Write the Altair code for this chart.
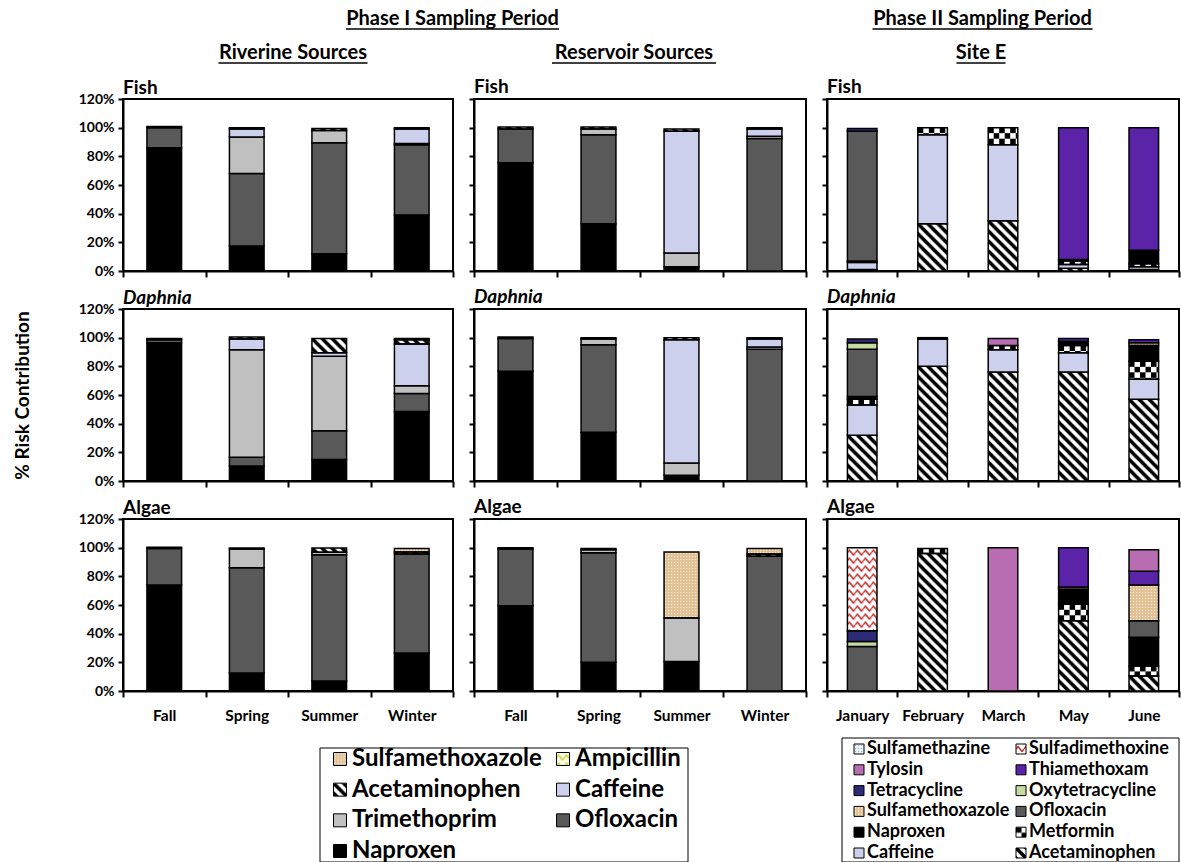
import altair as alt
import pandas as pd
from urllib.parse import quote

FONT = "Lato"

# ---------------- categories (stack order: bottom -> top) ----------------
PHASE1_DRUGS = ["Naproxen", "Ofloxacin", "Trimethoprim", "Caffeine",
                "Acetaminophen", "Ampicillin", "Sulfamethoxazole"]
PHASE2_DRUGS = ["Acetaminophen", "Caffeine", "Metformin", "Naproxen", "Ofloxacin",
                "Sulfamethoxazole", "Oxytetracycline", "Tetracycline", "Thiamethoxam",
                "Tylosin", "Sulfadimethoxine", "Sulfamethazine"]
SEASONS = ["Fall", "Spring", "Summer", "Winter"]
MONTHS = ["January", "February", "March", "May", "June"]

# ---------------- % risk contribution ----------------
riverine_fish = {
    "Naproxen":      [86, 17.5, 12, 39],
    "Ofloxacin":     [14, 50.5, 77.5, 49],
    "Trimethoprim":  [0, 25.5, 8.5, 1],
    "Caffeine":      [0, 5.5, 0, 10],
    "Acetaminophen": [0.8, 1, 1.5, 1],
}
riverine_daphnia = {
    "Naproxen":      [96.5, 10.5, 15, 48.5],
    "Ofloxacin":     [2, 6, 20, 12.5],
    "Trimethoprim":  [0, 75, 52, 5.5],
    "Caffeine":      [0, 7.5, 2.5, 29],
    "Acetaminophen": [1, 1.5, 10, 3],
    "Ampicillin":    [0, 0, 0, 1],
}
riverine_algae = {
    "Naproxen":         [74, 12.5, 7, 26.5],
    "Ofloxacin":        [25.5, 73.5, 88, 69],
    "Trimethoprim":     [0, 13, 1.8, 0],
    "Acetaminophen":    [0.8, 0.8, 3, 1.5],
    "Sulfamethoxazole": [0, 0, 0, 2.5],
}
reservoir_fish = {
    "Naproxen":      [75.5, 33, 3, 0],
    "Ofloxacin":     [23.5, 62, 0, 92.5],
    "Trimethoprim":  [0, 4, 9.5, 1.5],
    "Caffeine":      [0, 0, 85, 5],
    "Acetaminophen": [1.5, 1.5, 1.5, 1],
}
reservoir_daphnia = {
    "Naproxen":      [76.5, 34, 4, 0],
    "Ofloxacin":     [23, 61, 0, 92],
    "Trimethoprim":  [0, 4, 8.5, 1.5],
    "Caffeine":      [0, 0, 86, 5.5],
    "Acetaminophen": [1, 1, 1.5, 1],
}
reservoir_algae = {
    "Naproxen":         [59.5, 20, 20.5, 0],
    "Ofloxacin":        [39.5, 76.5, 0, 94],
    "Trimethoprim":     [0, 2, 30.5, 0],
    "Acetaminophen":    [1, 1, 0, 1.5],
    "Sulfamethoxazole": [0, 0, 46, 4],
}
site_e_fish = {
    "Acetaminophen": [1, 33, 35, 2, 1],
    "Caffeine":      [5, 62, 53, 2.5, 2],
    "Metformin":     [0, 5, 12, 2.5, 2],
    "Naproxen":      [1, 0, 0, 1, 9.5],
    "Ofloxacin":     [90.5, 0, 0, 0, 0],
    "Tetracycline":  [2, 0, 0, 0, 0],
    "Thiamethoxam":  [0, 0, 0, 92, 85.5],
}
site_e_daphnia = {
    "Acetaminophen":    [32, 80, 76, 76, 57],
    "Caffeine":         [21, 19, 15.5, 13.5, 14],
    "Metformin":        [4, 0, 3, 5, 12.5],
    "Naproxen":         [2, 1, 0, 3, 11],
    "Ofloxacin":        [33, 0, 0, 0, 0],
    "Sulfamethoxazole": [0, 0, 0, 0, 2],
    "Oxytetracycline":  [4.5, 0, 0, 0, 0],
    "Tetracycline":     [2.5, 0, 0, 0, 0],
    "Thiamethoxam":     [0, 0, 0, 2, 2],
    "Tylosin":          [0, 0, 5, 0, 0],
}
site_e_algae = {
    "Acetaminophen":    [0, 96, 0, 49, 10.5],
    "Metformin":        [0, 3.5, 0, 11.5, 7],
    "Naproxen":         [0, 0, 0, 10.5, 20],
    "Ofloxacin":        [31, 0, 0, 0, 11.5],
    "Sulfamethoxazole": [0, 0, 0, 1.5, 25],
    "Oxytetracycline":  [3.5, 0, 0, 0, 0],
    "Tetracycline":     [7.5, 0, 0, 0, 0],
    "Thiamethoxam":     [0, 0, 0, 27.5, 9.5],
    "Tylosin":          [0, 0, 100, 0, 15],
    "Sulfadimethoxine": [58, 0, 0, 0, 0],
}

# ---------------- styles ----------------
FILL = {
    "Naproxen": "#000000", "Ofloxacin": "#595959", "Trimethoprim": "#c0c0c0",
    "Caffeine": "#cdd0ec", "Tylosin": "#b86cb1", "Thiamethoxam": "#5b24a8",
    "Tetracycline": "#2d2b78", "Oxytetracycline": "#c4dca2",
    "Acetaminophen": "transparent", "Ampicillin": "transparent",
    "Sulfamethoxazole": "transparent", "Metformin": "transparent",
    "Sulfadimethoxine": "transparent", "Sulfamethazine": "transparent",
}
ALL_DRUGS = list(FILL.keys())


def pattern_uri(w, h, body):
    svg = ("<svg xmlns='http://www.w3.org/2000/svg' width='100%' height='100%'>"
           f"<defs><pattern id='p' x='0' y='0' width='{w}' height='{h}' patternUnits='userSpaceOnUse'>"
           f"{body}</pattern></defs>"
           "<rect x='0' y='0' width='100%' height='100%' fill='url(#p)'/></svg>")
    return "data:image/svg+xml," + quote(svg)


PATTERN = {
    "Acetaminophen": pattern_uri(10, 10, "<rect width='10' height='10' fill='white'/>"
                                 "<path d='M0,0L10,10M-10,0L10,20M0,-10L20,10' stroke='black' stroke-width='3.6'/>"),
    "Metformin": pattern_uri(11, 11, "<rect width='11' height='11' fill='white'/>"
                             "<rect width='5.5' height='5.5' fill='black'/>"
                             "<rect x='5.5' y='5.5' width='5.5' height='5.5' fill='black'/>"),
    "Sulfadimethoxine": pattern_uri(8, 8, "<rect width='8' height='8' fill='white'/>"
                                    "<path d='M0,5L2,2.5L4,5L6,7.5L8,5' fill='none' stroke='#c8322f' stroke-width='1.5'/>"),
    "Ampicillin": pattern_uri(8, 8, "<rect width='8' height='8' fill='#fbfde4'/>"
                              "<path d='M0,5L2,2.5L4,5L6,7.5L8,5' fill='none' stroke='#c9d12c' stroke-width='1.3'/>"),
    "Sulfamethoxazole": pattern_uri(3, 3, "<rect width='3' height='3' fill='#e0bf90'/>"
                                    "<rect x='1' y='1' width='1.2' height='1.2' fill='white'/>"),
    "Sulfamethazine": pattern_uri(3, 3, "<rect width='3' height='3' fill='#eef3fa'/>"
                                  "<rect x='1' y='1' width='1.1' height='1.1' fill='#8fa9cc'/>"),
}

H = 172
WIDTHS = [330, 332, 352]
BAND = 0.42
fill_scale = alt.Scale(domain=ALL_DRUGS, range=[FILL[d] for d in ALL_DRUGS])
ONE = pd.DataFrame({"k": [0]})


def panel(values, drugs, periods, title, col, row):
    recs = []
    for k, d in enumerate(drugs):
        for p, v in zip(periods, values.get(d, [0] * len(periods))):
            if v > 0:
                recs.append({"period": p, "drug": d, "value": v, "order": k,
                             "pat": PATTERN.get(d, "")})
    df = pd.DataFrame(recs)
    x = alt.X("period:N", sort=periods,
              scale=alt.Scale(domain=periods, paddingInner=0, paddingOuter=0),
              axis=alt.Axis(title="", labels=(row == 2), labelAngle=0, labelFont=FONT,
                            labelFontSize=15.5, labelFontWeight="bold", labelColor="black",
                            labelPadding=11, tickBand="extent", tickSize=6, tickWidth=2,
                            tickColor="black", domainColor="black", domainWidth=2, grid=False))
    ykw = dict(values=[0, 20, 40, 60, 80, 100, 120], labels=(col == 0),
               labelExpr="datum.value + '%'", labelFont=FONT, labelFontSize=14,
               labelFontWeight="bold", labelColor="black", labelPadding=4, tickSize=5,
               tickWidth=2, tickColor="black", domainColor="black", domainWidth=2,
               grid=False, title="")
    if col == 0 and row == 1:
        ykw.update(title="% Risk Contribution", titleFont=FONT, titleFontSize=19,
                   titleFontWeight="bold", titleColor="black", titleX=-91, titleY=H / 2,
                   titleAngle=270, titleAlign="center", titleBaseline="bottom")
    y = alt.Y("y0:Q", scale=alt.Scale(domain=[0, 120], nice=False), axis=alt.Axis(**ykw))
    y2 = alt.Y2("y1:Q")
    base = alt.Chart(df).transform_stack(
        stack="value", groupby=["period"], as_=["y0", "y1"],
        sort=[alt.SortField("order", order="ascending")])
    imgs = base.transform_filter("datum.pat != ''").mark_image(
        aspect=False, align="left", baseline="top", width=alt.RelativeBandSize(BAND)
    ).encode(x=x, y=y, y2=y2, url=alt.Url("pat:N"))
    bars = base.mark_bar(width=alt.RelativeBandSize(BAND), stroke="black", strokeWidth=1.5).encode(
        x=x, y=y, y2=y2, fill=alt.Fill("drug:N", scale=fill_scale, legend=None))
    return alt.layer(imgs, bars).properties(
        width=WIDTHS[col], height=H,
        title=alt.TitleParams(title, anchor="start", frame="group", font=FONT, fontSize=19,
                              fontWeight="bold",
                              fontStyle=("italic" if title == "Daphnia" else "normal"),
                              color="black", offset=(-6 if col == 0 else 1)),
        view=alt.ViewBackground(stroke="black", strokeWidth=2))


# ---------------- header cells ----------------
HDR_FS = 20
HEADERS = [  # per column: (text, centre x, centre y, underline width)
    [("Riverine Sources", 170, 52, 149)],
    [("Phase I Sampling Period", -21.5, 18, 213), ("Reservoir Sources", 160, 52, 164)],
    [("Phase II Sampling Period", 155.5, 18, 220), ("Site E", 154, 52, 49)],
]


def header_cell(items, width):
    layers = []
    for text, cx, cy, uw in items:
        one = alt.Chart(pd.DataFrame({"label": [text]}))
        layers.append(one.mark_text(font=FONT, fontSize=HDR_FS, fontWeight="bold", color="black",
                                    align="center", baseline="middle")
                      .encode(text="label:N", x=alt.value(cx), y=alt.value(cy)))
        layers.append(one.mark_rule(color="black", strokeWidth=1.5)
                      .encode(x=alt.value(cx - uw / 2), x2=alt.value(cx + uw / 2),
                              y=alt.value(cy + 10)))
    return alt.layer(*layers).properties(
        width=width, height=60, view=alt.ViewBackground(stroke="transparent", fill="white"))


# ---------------- legend cells ----------------
LEG_H = 133


def legend_cell(drugs, width, box, x_range, y_range, sw, fs, dx):
    names = list(reversed(drugs))
    df = pd.DataFrame({"drug": names,
                       "col": [i % 2 for i in range(len(names))],
                       "row": [i // 2 for i in range(len(names))],
                       "pat": [PATTERN.get(d, "") for d in names]})
    nrows = (len(names) + 1) // 2
    frame = alt.Chart(ONE).mark_rect(fill="white", stroke="black", strokeWidth=1).encode(
        x=alt.value(box[0]), x2=alt.value(box[1]), y=alt.value(box[2]), y2=alt.value(box[3]))
    base = alt.Chart(df).encode(
        x=alt.X("col:Q", scale=alt.Scale(domain=[0, 1], range=x_range, nice=False), axis=None),
        y=alt.Y("row:Q", scale=alt.Scale(domain=[0, nrows - 1], range=y_range, nice=False), axis=None))
    imgs = base.transform_filter("datum.pat != ''").mark_image(
        aspect=False, align="center", baseline="middle", width=sw, height=sw).encode(url="pat:N")
    sq = base.mark_square(size=sw * sw, stroke="black", strokeWidth=1, opacity=1).encode(
        fill=alt.Fill("drug:N", scale=fill_scale, legend=None))
    txt = base.mark_text(align="left", baseline="middle", dx=dx, font=FONT, fontSize=fs,
                         fontWeight="bold", color="black").encode(text="drug:N")
    return alt.layer(frame, imgs, sq, txt).properties(
        width=width, height=LEG_H, view=alt.ViewBackground(stroke="transparent"))


def blank_cell(width, height):
    return alt.Chart(ONE).mark_point(opacity=0).encode(
        x=alt.X("k:Q", axis=None), y=alt.Y("k:Q", axis=None)).properties(
        width=width, height=height, view=alt.ViewBackground(stroke="transparent"))


cells = [header_cell(HEADERS[c], WIDTHS[c]) for c in range(3)]
for r, (organism, sets) in enumerate([
        ("Fish", [riverine_fish, reservoir_fish, site_e_fish]),
        ("Daphnia", [riverine_daphnia, reservoir_daphnia, site_e_daphnia]),
        ("Algae", [riverine_algae, reservoir_algae, site_e_algae])]):
    cells += [
        panel(sets[0], PHASE1_DRUGS, SEASONS, organism, 0, r),
        panel(sets[1], PHASE1_DRUGS, SEASONS, organism, 1, r),
        panel(sets[2], PHASE2_DRUGS, MONTHS, organism, 2, r),
    ]
cells += [
    legend_cell(PHASE1_DRUGS, WIDTHS[0], (197, 565, 19, 133), [217, 440], [30, 122], 13, 24, 12),
    blank_cell(WIDTHS[1], LEG_H),
    legend_cell(PHASE2_DRUGS, WIDTHS[2], (15, 352, 9, 133), [32, 194], [20, 124], 10, 18, 8),
]

chart = alt.concat(*cells, columns=3, spacing={"row": 38, "column": 21},
                   bounds="flush", align="each").properties(
    padding={"left": 12, "top": 0, "right": 0, "bottom": 0}
).configure(font=FONT)

chart.save("out.html", embed_options={"renderer": "svg", "actions": False})
